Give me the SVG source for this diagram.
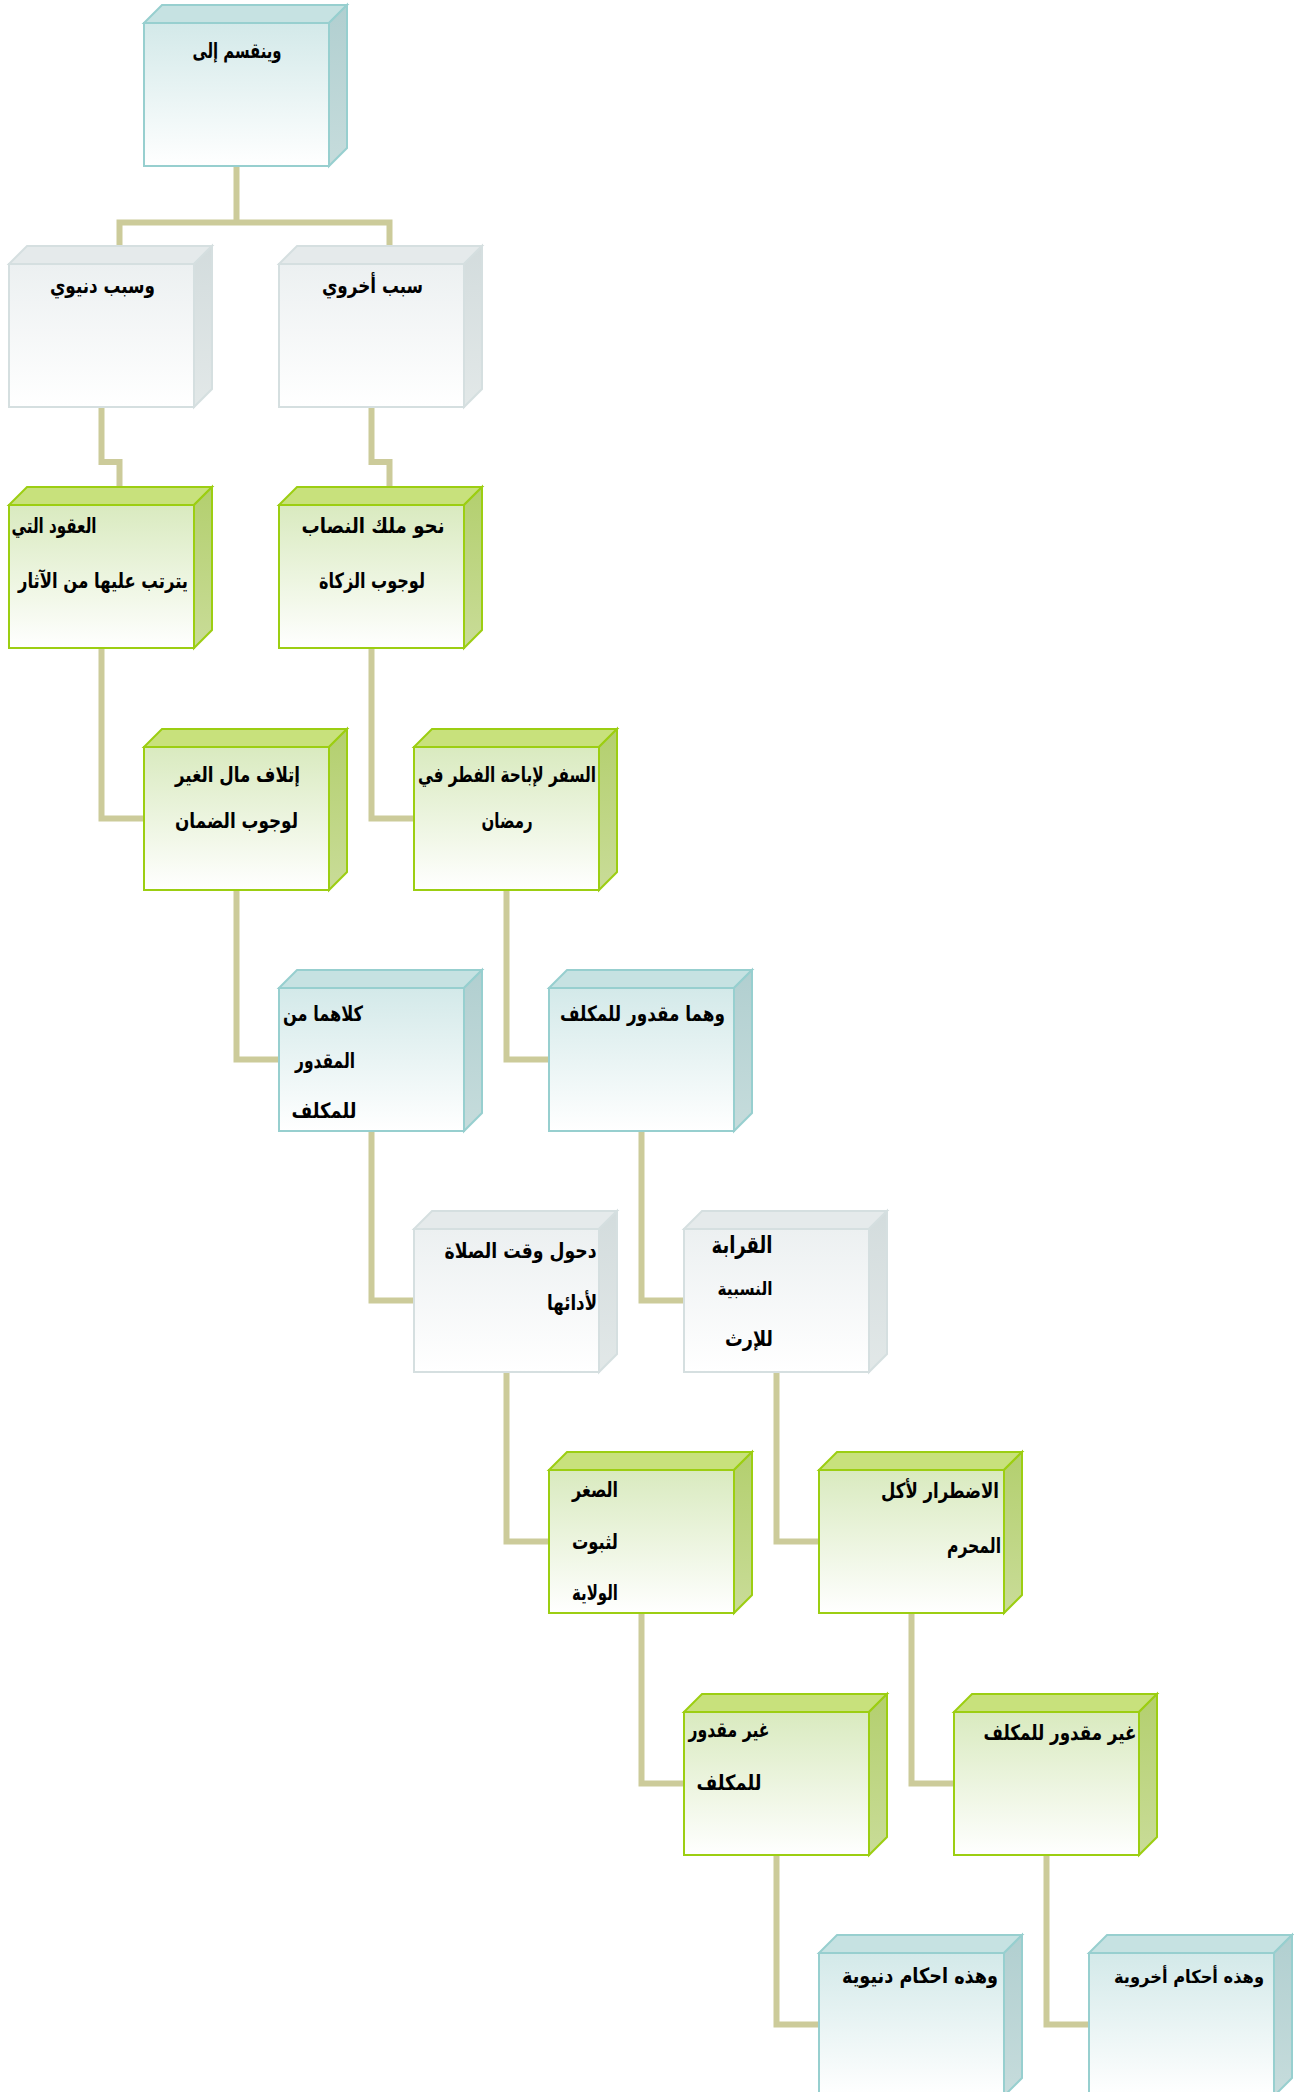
<svg xmlns="http://www.w3.org/2000/svg" width="1294" height="2092" viewBox="0 0 1294 2092">
  <defs>
    <!-- front face gradients -->
    <linearGradient id="frontTeal" x1="0" y1="0" x2="0" y2="1">
      <stop offset="0" stop-color="#d3e9e9"/>
      <stop offset="1" stop-color="#ffffff"/>
    </linearGradient>
    <linearGradient id="frontGray" x1="0" y1="0" x2="0" y2="1">
      <stop offset="0" stop-color="#ecf0f1"/>
      <stop offset="1" stop-color="#ffffff"/>
    </linearGradient>
    <linearGradient id="frontGreen" x1="0" y1="0" x2="0" y2="1">
      <stop offset="0" stop-color="#d9eabf"/>
      <stop offset="1" stop-color="#ffffff"/>
    </linearGradient>
    <!-- side face gradients -->
    <linearGradient id="sideTeal" x1="0" y1="0" x2="0" y2="1">
      <stop offset="0" stop-color="#b1cfd0"/>
      <stop offset="1" stop-color="#c6dcdc"/>
    </linearGradient>
    <linearGradient id="sideGray" x1="0" y1="0" x2="0" y2="1">
      <stop offset="0" stop-color="#d3dcdd"/>
      <stop offset="1" stop-color="#e2e8e8"/>
    </linearGradient>
    <linearGradient id="sideGreen" x1="0" y1="0" x2="0" y2="1">
      <stop offset="0" stop-color="#b3cf6e"/>
      <stop offset="1" stop-color="#c9dc98"/>
    </linearGradient>
  </defs>
  <style>
    .link { fill: none; stroke: #cccb9a; stroke-width: 6; }
    .box rect, .box polygon { stroke-width: 2; stroke-linejoin: miter; }
    .teal rect { fill: url(#frontTeal); stroke: #97cfcf; }
    .teal .top { fill: #c6e2e2; stroke: #97cfcf; }
    .teal .side { fill: url(#sideTeal); stroke: #97cfcf; }
    .gray rect { fill: url(#frontGray); stroke: #d5dfe0; }
    .gray .top { fill: #e5eaeb; stroke: #d5dfe0; }
    .gray .side { fill: url(#sideGray); stroke: #d5dfe0; }
    .green rect { fill: url(#frontGreen); stroke: #9cce12; }
    .green .top { fill: #c8e17c; stroke: #9cce12; }
    .green .side { fill: url(#sideGreen); stroke: #9cce12; }
    text { font-family: "DejaVu Sans", sans-serif; font-weight: bold; font-size: 21px; fill: #000000; text-anchor: middle; direction: rtl; }
    .big { font-size: 24px; }
    .small { font-size: 18px; }
    .edge { font-size: 18px; }
  </style>

  <!-- connectors -->
  <g id="connectors">
    <path class="link" d="M236.5,166 V222.5 M119.5,246 V222.5 H389.5 V246"/>
    <path class="link" d="M101.5,407 V462 H119.5 V487"/>
    <path class="link" d="M371.5,407 V462 H389.5 V487"/>
    <path class="link" d="M101.5,648 V818.5 H144"/>
    <path class="link" d="M371.5,648 V818.5 H414"/>
    <path class="link" d="M236.5,890 V1059.5 H279"/>
    <path class="link" d="M506.5,890 V1059.5 H549"/>
    <path class="link" d="M371.5,1131 V1300.5 H414"/>
    <path class="link" d="M641.5,1131 V1300.5 H684"/>
    <path class="link" d="M506.5,1372 V1541.5 H549"/>
    <path class="link" d="M776.5,1372 V1541.5 H819"/>
    <path class="link" d="M641.5,1613 V1783.5 H684"/>
    <path class="link" d="M911.5,1613 V1783.5 H954"/>
    <path class="link" d="M776.5,1855 V2024.5 H819"/>
    <path class="link" d="M1046.5,1855 V2024.5 H1089"/>
  </g>

  <!-- row 1 -->
  <g id="n-root" class="box teal">
    <polygon class="top" points="144,23 162,5 347,5 329,23"/>
    <polygon class="side" points="329,23 347,5 347,148 329,166"/>
    <rect x="144" y="23" width="185" height="143"/>
    <text x="237" y="58" textLength="89" lengthAdjust="spacingAndGlyphs">وينقسم إلى</text>
  </g>

  <!-- row 2 -->
  <g id="n-dunyawi" class="box gray">
    <polygon class="top" points="9,264 27,246 212,246 194,264"/>
    <polygon class="side" points="194,264 212,246 212,389 194,407"/>
    <rect x="9" y="264" width="185" height="143"/>
    <text x="102.5" y="293" textLength="105" lengthAdjust="spacingAndGlyphs">وسبب دنيوي</text>
  </g>
  <g id="n-ukhrawi" class="box gray">
    <polygon class="top" points="279,264 297,246 482,246 464,264"/>
    <polygon class="side" points="464,264 482,246 482,389 464,407"/>
    <rect x="279" y="264" width="185" height="143"/>
    <text x="372.5" y="293" textLength="101" lengthAdjust="spacingAndGlyphs">سبب أخروي</text>
  </g>

  <!-- row 3 -->
  <g id="n-uqud" class="box green">
    <polygon class="top" points="9,505 27,487 212,487 194,505"/>
    <polygon class="side" points="194,505 212,487 212,630 194,648"/>
    <rect x="9" y="505" width="185" height="143"/>
    <text x="54" y="533" textLength="85" lengthAdjust="spacingAndGlyphs">العقود التي</text>
    <text x="103" y="588" textLength="170" lengthAdjust="spacingAndGlyphs">يترتب عليها من الآثار</text>
  </g>
  <g id="n-nisab" class="box green">
    <polygon class="top" points="279,505 297,487 482,487 464,505"/>
    <polygon class="side" points="464,505 482,487 482,630 464,648"/>
    <rect x="279" y="505" width="185" height="143"/>
    <text x="373" y="533" textLength="143" lengthAdjust="spacingAndGlyphs">نحو ملك النصاب</text>
    <text x="372" y="588" textLength="106" lengthAdjust="spacingAndGlyphs">لوجوب الزكاة</text>
  </g>

  <!-- row 4 -->
  <g id="n-itlaf" class="box green">
    <polygon class="top" points="144,747 162,729 347,729 329,747"/>
    <polygon class="side" points="329,747 347,729 347,872 329,890"/>
    <rect x="144" y="747" width="185" height="143"/>
    <text x="237.5" y="782" textLength="125" lengthAdjust="spacingAndGlyphs">إتلاف مال الغير</text>
    <text x="236.5" y="828" textLength="123" lengthAdjust="spacingAndGlyphs">لوجوب الضمان</text>
  </g>
  <g id="n-safar" class="box green">
    <polygon class="top" points="414,747 432,729 617,729 599,747"/>
    <polygon class="side" points="599,747 617,729 617,872 599,890"/>
    <rect x="414" y="747" width="185" height="143"/>
    <text x="507" y="782" textLength="178" lengthAdjust="spacingAndGlyphs">السفر لإباحة الفطر في</text>
    <text x="507" y="828" textLength="51" lengthAdjust="spacingAndGlyphs">رمضان</text>
  </g>

  <!-- row 5 -->
  <g id="n-kilahuma" class="box teal">
    <polygon class="top" points="279,988 297,970 482,970 464,988"/>
    <polygon class="side" points="464,988 482,970 482,1113 464,1131"/>
    <rect x="279" y="988" width="185" height="143"/>
    <text x="323" y="1021" textLength="80" lengthAdjust="spacingAndGlyphs">كلاهما من</text>
    <text x="325" y="1068" textLength="60" lengthAdjust="spacingAndGlyphs">المقدور</text>
    <text x="324" y="1118" textLength="65" lengthAdjust="spacingAndGlyphs">للمكلف</text>
  </g>
  <g id="n-wahuma" class="box teal">
    <polygon class="top" points="549,988 567,970 752,970 734,988"/>
    <polygon class="side" points="734,988 752,970 752,1113 734,1131"/>
    <rect x="549" y="988" width="185" height="143"/>
    <text x="642.5" y="1021" textLength="165" lengthAdjust="spacingAndGlyphs">وهما مقدور للمكلف</text>
  </g>

  <!-- row 6 -->
  <g id="n-dukhul" class="box gray">
    <polygon class="top" points="414,1229 432,1211 617,1211 599,1229"/>
    <polygon class="side" points="599,1229 617,1211 617,1354 599,1372"/>
    <rect x="414" y="1229" width="185" height="143"/>
    <text x="520.5" y="1258" textLength="152" lengthAdjust="spacingAndGlyphs">دحول وقت الصلاة</text>
    <text x="572" y="1310" textLength="50" lengthAdjust="spacingAndGlyphs">لأدائها</text>
  </g>
  <g id="n-qaraba" class="box gray">
    <polygon class="top" points="684,1229 702,1211 887,1211 869,1229"/>
    <polygon class="side" points="869,1229 887,1211 887,1354 869,1372"/>
    <rect x="684" y="1229" width="185" height="143"/>
    <text class="big" x="742" y="1253" textLength="61" lengthAdjust="spacingAndGlyphs">القرابة</text>
    <text class="small" x="745" y="1295" textLength="55" lengthAdjust="spacingAndGlyphs">النسبية</text>
    <text x="749" y="1346" textLength="48" lengthAdjust="spacingAndGlyphs">للإرث</text>
  </g>

  <!-- row 7 -->
  <g id="n-sighar" class="box green">
    <polygon class="top" points="549,1470 567,1452 752,1452 734,1470"/>
    <polygon class="side" points="734,1470 752,1452 752,1595 734,1613"/>
    <rect x="549" y="1470" width="185" height="143"/>
    <text x="595" y="1497" textLength="46" lengthAdjust="spacingAndGlyphs">الصغر</text>
    <text x="595" y="1549" textLength="46" lengthAdjust="spacingAndGlyphs">لثبوت</text>
    <text x="595" y="1600" textLength="46" lengthAdjust="spacingAndGlyphs">الولاية</text>
  </g>
  <g id="n-idtirar" class="box green">
    <polygon class="top" points="819,1470 837,1452 1022,1452 1004,1470"/>
    <polygon class="side" points="1004,1470 1022,1452 1022,1595 1004,1613"/>
    <rect x="819" y="1470" width="185" height="143"/>
    <text x="940" y="1498" textLength="118" lengthAdjust="spacingAndGlyphs">الاضطرار لأكل</text>
    <text x="974" y="1553" textLength="54" lengthAdjust="spacingAndGlyphs">المحرم</text>
  </g>

  <!-- row 8 -->
  <g id="n-ghayr-1" class="box green">
    <polygon class="top" points="684,1712 702,1694 887,1694 869,1712"/>
    <polygon class="side" points="869,1712 887,1694 887,1837 869,1855"/>
    <rect x="684" y="1712" width="185" height="143"/>
    <text x="729" y="1737" textLength="81" lengthAdjust="spacingAndGlyphs">غير مقدور</text>
    <text x="729" y="1790" textLength="65" lengthAdjust="spacingAndGlyphs">للمكلف</text>
  </g>
  <g id="n-ghayr-2" class="box green">
    <polygon class="top" points="954,1712 972,1694 1157,1694 1139,1712"/>
    <polygon class="side" points="1139,1712 1157,1694 1157,1837 1139,1855"/>
    <rect x="954" y="1712" width="185" height="143"/>
    <text x="1060" y="1740" textLength="153" lengthAdjust="spacingAndGlyphs">غير مقدور للمكلف</text>
  </g>

  <!-- row 9 -->
  <g id="n-ahkam-dunyawiya" class="box teal">
    <polygon class="top" points="819,1953 837,1935 1022,1935 1004,1953"/>
    <polygon class="side" points="1004,1953 1022,1935 1022,2078 1004,2096"/>
    <rect x="819" y="1953" width="185" height="143"/>
    <text x="920" y="1983" textLength="156" lengthAdjust="spacingAndGlyphs">وهذه احكام دنيوية</text>
  </g>
  <g id="n-ahkam-ukhrawiya" class="box teal">
    <polygon class="top" points="1089,1953 1107,1935 1292,1935 1274,1953"/>
    <polygon class="side" points="1274,1953 1292,1935 1292,2078 1274,2096"/>
    <rect x="1089" y="1953" width="185" height="143"/>
    <text class="edge" x="1189" y="1983" textLength="150" lengthAdjust="spacingAndGlyphs">وهذه أحكام أخروية</text>
  </g>
</svg>
